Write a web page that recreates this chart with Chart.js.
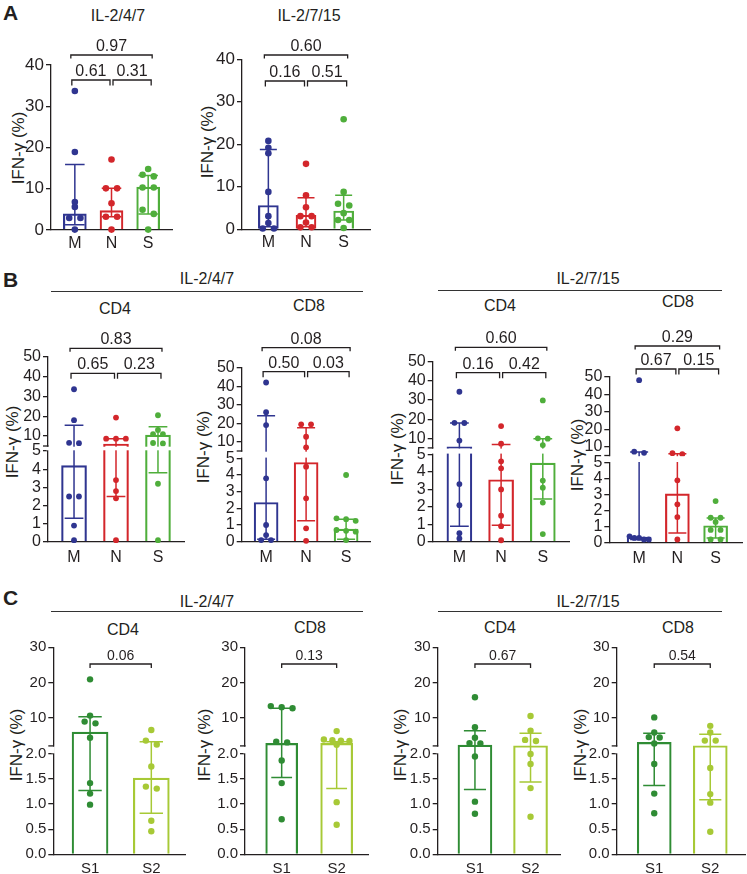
<!DOCTYPE html>
<html><head><meta charset="utf-8">
<script src="https://cdn.jsdelivr.net/npm/chart.js@4.4.1/dist/chart.umd.min.js"></script>
<style>
body{margin:0;background:#fff;width:747px;height:874px;position:relative;overflow:hidden;font-family:"Liberation Sans",Arial,sans-serif;color:#231f20}
.t{position:absolute;white-space:nowrap;transform:translate(-50%,-50%);font-size:16px;line-height:1}
.L{position:absolute;font-weight:bold;font-size:21px;line-height:1}
.yl{position:absolute;white-space:nowrap;font-size:17px;line-height:1;transform:translate(-50%,-50%) rotate(-90deg)}
.hl{position:absolute;height:0;border-top:1.3px solid #333}
canvas{position:absolute}
</style></head><body>
<script>
// ---------------- DATA ----------------
const CATS3 = ['M','N','S'];
const CATS2 = ['S1','S2'];
const TICKS_A = [0,10,20,30,40];
const TICKS_B_LOW = [0,1,2,3,4,5];
const TICKS_B_UP = [10,20,30,40,50];
const TICKS_C_LOW = [0,0.5,1,1.5,2];
const LABELS_C_LOW = ['0.0','0.5','1.0','1.5','2.0'];
const TICKS_C_UP = [10,20,30];

// Panel A  IL-2/4/7
const A1_M = [33.7, 18.9, 6.8, 5.6, 2.9, 2.9, 0.1];
const A1_N = [17.1, 10.1, 10.1, 6.5, 3.2, 3.2, 0.1];
const A1_S = [14.8, 13.4, 13.0, 10.3, 10.3, 4.9, 3.9, 0.1];
const A1_bar = [3.9, 4.7, 10.4];
const A1_lo = [1.3, 3.2, 3.9];
const A1_hi = [15.9, 10.1, 13.2];
const A1_p = ['0.97','0.61','0.31'];
// Panel A  IL-2/7/15
const A2_M = [20.8, 19.2, 17.9, 8.8, 3.1, 1.5, 0.2, 0.2];
const A2_N = [15.4, 8.0, 5.2, 3.1, 3.1, 1.6, 0.5, 0.5];
const A2_S = [25.9, 8.8, 6.0, 5.6, 3.8, 2.2, 2.2, 0.3];
const A2_bar = [5.6, 3.3, 4.3];
const A2_lo = [0.6, 0.6, 2.2];
const A2_hi = [18.8, 7.4, 8.0];
const A2_p = ['0.60','0.16','0.51'];
// Panel B  IL-2/4/7 CD4
const B1_M = [33.6, 18.0, 6.6, 6.4, 2.5, 2.5, 0.9, 0.1];
const B1_N = [19.3, 8.7, 8.7, 8.7, 3.4, 2.8, 2.4, 0.1];
const B1_S = [20.5, 13.1, 11.0, 11.0, 6.5, 6.3, 3.2, 0.1];
const B1_bar = [4.2, 6.0, 10.5];
const B1_lo = [1.3, 2.5, 3.8];
const B1_hi = [15.4, 8.7, 14.7];
const B1_p = ['0.83','0.65','0.23'];
// Panel B  IL-2/4/7 CD8
const B2_M = [42, 26, 19, 3.8, 1.0, 0.4, 0.1, 0.1];
const B2_N = [19.4, 19.4, 12.7, 7.0, 4.5, 2.6, 0.8, 0.05];
const B2_S = [4.0, 1.4, 1.35, 1.25, 0.7, 0.65, 0.6, 0.1];
const B2_bar = [2.35, 4.75, 0.75];
const B2_lo = [0.15, 1.25, 0.15];
const B2_hi = [24, 17.6, 1.35];
const B2_p = ['0.08','0.50','0.03'];
// Panel B  IL-2/7/15 CD4
const B3_M = [34.3, 18.1, 18.0, 8.8, 3.3, 2.1, 0.5, 0.2];
const B3_N = [16.4, 7.2, 4.6, 4.2, 3.0, 1.5, 0.9, 0.1];
const B3_S = [29.8, 10.0, 9.8, 6.5, 3.5, 3.1, 2.25, 0.45];
const B3_bar = [5.6, 3.55, 4.5];
const B3_lo = [0.9, 0.95, 2.45];
const B3_hi = [18.0, 6.8, 9.8];
const B3_p = ['0.60','0.16','0.42'];
// Panel B  IL-2/7/15 CD8
const B4_M = [48, 7.2, 6.5, 0.4, 0.3, 0.3, 0.2, 0.2];
const B4_N = [20.5, 6.3, 5.7, 3.9, 2.4, 1.6, 0.2];
const B4_S = [2.6, 1.56, 1.56, 1.3, 0.8, 0.8, 0.2, 0.2];
const B4_bar = [0.35, 3.05, 1.06];
const B4_lo = [0.2, 0.6, 0.3];
const B4_hi = [7.0, 6.0, 1.55];
const B4_p = ['0.29','0.67','0.15'];
// Panel C
const C1_S1 = [20.9, 10.6, 8.9, 8.4, 4.3, 1.42, 1.21, 0.99];
const C1_S2 = [6.5, 3.5, 2.4, 1.75, 1.35, 1.31, 0.67, 0.46];
const C1_bar = [5.9, 1.52], C1_lo = [1.27, 0.82], C1_hi = [10.3, 3.2], C1_p = ['0.06'];
const C2_S1 = [13.3, 13.0, 12.7, 3.2, 3.0, 1.87, 1.42, 0.70];
const C2_S2 = [6.2, 3.8, 3.6, 3.5, 3.4, 2.3, 1.04, 0.59];
const C2_bar = [2.7, 2.7], C2_lo = [1.53, 1.31], C2_hi = [12.7, 3.2], C2_p = ['0.13'];
const C3_S1 = [15.8, 7.3, 4.3, 2.8, 2.7, 1.95, 1.05, 0.81];
const C3_S2 = [10.5, 6.3, 3.7, 3.4, 2.0, 1.8, 1.32, 0.75];
const C3_bar = [2.2, 2.05], C3_lo = [1.29, 1.44], C3_hi = [6.3, 5.6], C3_p = ['0.67'];
const C4_S1 = [10.1, 5.8, 4.5, 4.4, 2.7, 1.8, 1.21, 0.82];
const C4_S2 = [7.7, 5.8, 3.5, 3.5, 1.72, 1.2, 1.03, 0.45];
const C4_bar = [3.0, 2.05], C4_lo = [1.37, 1.09], C4_hi = [5.6, 5.3], C4_p = ['0.54'];

// ---------------- STYLE / LAYOUT ----------------
const COL3 = ['#2f3590','#d3262b','#4fae3b'];
const COL2 = ['#2f8c34','#a7c936'];
const FONT = '"Liberation Sans", Arial, sans-serif';

const SPECS = {};
const charts = [
 {id:'A1',cats:CATS3,groups:[A1_M,A1_N,A1_S],bar:A1_bar,lo:A1_lo,hi:A1_hi,p:A1_p,colors:COL3,
  lowTicks:TICKS_A,lowMax:40,axisX:51,xEnd:172,zeroY:230,topY:65,xMin:-0.65,xMax:2.65,barW:23,br:[55,80],tf:17,pf:16,xf:16,r:3.3,cap:0.85,xpad:4,gapMode:0},
 {id:'A2',cats:CATS3,groups:[A2_M,A2_N,A2_S],bar:A2_bar,lo:A2_lo,hi:A2_hi,p:A2_p,colors:COL3,
  lowTicks:TICKS_A,lowMax:40,axisX:242,xEnd:370,zeroY:229.3,topY:59.3,xMin:-0.7,xMax:2.7,barW:20,br:[55,81],tf:17,pf:16,xf:16,r:3.3,cap:0.85,xpad:4,gapMode:0},
 {id:'B1',cats:CATS3,groups:[B1_M,B1_N,B1_S],bar:B1_bar,lo:B1_lo,hi:B1_hi,p:B1_p,colors:COL3,
  lowTicks:TICKS_B_LOW,upTicks:TICKS_B_UP,lowMax:5,upMax:50,axisX:48,xEnd:184,zeroY:542,lowTopY:451,upBotY:446,topY:356.7,xMin:-0.62,xMax:2.62,barW:25,br:[348.3,373.3],tf:16,pf:16,xf:16,r:2.9,cap:0.75,xpad:6,gapMode:1},
 {id:'B2',cats:CATS3,groups:[B2_M,B2_N,B2_S],bar:B2_bar,lo:B2_lo,hi:B2_hi,p:B2_p,colors:COL3,
  lowTicks:TICKS_B_LOW,upTicks:TICKS_B_UP,lowMax:5,upMax:50,axisX:241.7,xEnd:370.5,zeroY:541.7,lowTopY:458.3,upBotY:451,topY:367.7,xMin:-0.61,xMax:2.61,barW:24,br:[347.7,371.7],tf:16,pf:16,xf:16,r:2.9,cap:0.75,xpad:6,gapMode:1},
 {id:'B3',cats:CATS3,groups:[B3_M,B3_N,B3_S],bar:B3_bar,lo:B3_lo,hi:B3_hi,p:B3_p,colors:COL3,
  lowTicks:TICKS_B_LOW,upTicks:TICKS_B_UP,lowMax:5,upMax:50,axisX:432.7,xEnd:569.5,zeroY:542,lowTopY:454.3,upBotY:447.9,topY:361.7,xMin:-0.64,xMax:2.64,barW:25,br:[347.3,372.7],tf:16,pf:16,xf:16,r:2.9,cap:0.75,xpad:6,gapMode:1},
 {id:'B4',cats:CATS3,groups:[B4_M,B4_N,B4_S],bar:B4_bar,lo:B4_lo,hi:B4_hi,p:B4_p,colors:COL3,
  lowTicks:TICKS_B_LOW,upTicks:TICKS_B_UP,lowMax:5,upMax:50,axisX:609.3,xEnd:742,zeroY:542.7,lowTopY:462.7,upBotY:455.5,topY:376.7,xMin:-0.78,xMax:2.69,barW:24,br:[346,369],tf:16,pf:16,xf:16,r:2.9,cap:0.75,xpad:6,gapMode:1},
 {id:'C1',cats:CATS2,groups:[C1_S1,C1_S2],bar:C1_bar,lo:C1_lo,hi:C1_hi,p:C1_p,colors:COL2,
  lowTicks:TICKS_C_LOW,lowLabels:LABELS_C_LOW,upTicks:TICKS_C_UP,lowMax:2,upMax:30,axisX:53.3,xEnd:185,zeroY:854.3,lowTopY:754,upBotY:745.9,topY:647.3,xMin:-0.6,xMax:1.55,barW:36,br:[664],tf:15,pf:14,xf:15,r:3.2,cap:0.65,xpad:6,gapMode:2},
 {id:'C2',cats:CATS2,groups:[C2_S1,C2_S2],bar:C2_bar,lo:C2_lo,hi:C2_hi,p:C2_p,colors:COL2,
  lowTicks:TICKS_C_LOW,lowLabels:LABELS_C_LOW,upTicks:TICKS_C_UP,lowMax:2,upMax:30,axisX:245,xEnd:368,zeroY:854.3,lowTopY:754,upBotY:745.9,topY:647.3,xMin:-0.667,xMax:1.57,barW:32,br:[664],tf:15,pf:14,xf:15,r:3.2,cap:0.65,xpad:6,gapMode:2},
 {id:'C3',cats:CATS2,groups:[C3_S1,C3_S2],bar:C3_bar,lo:C3_lo,hi:C3_hi,p:C3_p,colors:COL2,
  lowTicks:TICKS_C_LOW,lowLabels:LABELS_C_LOW,upTicks:TICKS_C_UP,lowMax:2,upMax:30,axisX:437.7,xEnd:560,zeroY:854.3,lowTopY:754,upBotY:745.9,topY:647.3,xMin:-0.67,xMax:1.53,barW:34,br:[664],tf:15,pf:14,xf:15,r:3.2,cap:0.65,xpad:6,gapMode:2},
 {id:'C4',cats:CATS2,groups:[C4_S1,C4_S2],bar:C4_bar,lo:C4_lo,hi:C4_hi,p:C4_p,colors:COL2,
  lowTicks:TICKS_C_LOW,lowLabels:LABELS_C_LOW,upTicks:TICKS_C_UP,lowMax:2,upMax:30,axisX:616.7,xEnd:745,zeroY:854.3,lowTopY:754,upBotY:745.9,topY:647.3,xMin:-0.67,xMax:1.62,barW:34,br:[664],tf:15,pf:14,xf:15,r:3.2,cap:0.65,xpad:6,gapMode:2}
];

const TEXTS = [
 ['IL-2/4/7',118,16],['IL-2/7/15',309,16],
 ['IL-2/4/7',207,279],['IL-2/7/15',588,279],
 ['CD4',115,309],['CD8',309,305.7],['CD4',500,306],['CD8',678,302],
 ['IL-2/4/7',207,602],['IL-2/7/15',588,602],
 ['CD4',123,630],['CD8',310,628],['CD4',500,628],['CD8',678,628]
];
const HLINES = [[51,363,291],[438,722,290],[51,363,611],[438,722,611]];
const YLABELS = [[18,148],[207,142],[12,442],[203,447],[397,449],[577,455],[16,745],[204,745],[400,745],[580,745]];
const LETTERS = [['A',3,2],['B',3,269],['C',3,587]];

// ---------------- BUILD ----------------
const body = document.body;
function addDiv(cls, txt, css){ const d=document.createElement('div'); d.className=cls; d.textContent=txt; Object.assign(d.style,css); body.appendChild(d); return d; }
TEXTS.forEach(([t,x,y])=>addDiv('t',t,{left:x+'px',top:y+'px'}));
HLINES.forEach(([x1,x2,y])=>addDiv('hl','',{left:x1+'px',top:y+'px',width:(x2-x1)+'px'}));
YLABELS.forEach(([x,y])=>addDiv('yl','IFN-\u03b3 (%)',{left:x+'px',top:y+'px'}));
LETTERS.forEach(([t,x,y])=>addDiv('L',t,{left:x+'px',top:y+'px'}));

function makeF(s){
  const H = s.zeroY - s.topY;
  if(!s.upTicks) return v => v / s.lowMax * H;
  const hLow = s.zeroY - s.lowTopY, gap = s.lowTopY - s.upBotY, hUp = s.upBotY - s.topY;
  return v => v <= s.lowMax ? v / s.lowMax * hLow : hLow + gap + (v - s.lowMax) / (s.upMax - s.lowMax) * hUp;
}

function swarm(vals, f, r, pxPerUnit, maxSpread){
  const ys = vals.map(f);
  const idx = ys.map((y,i)=>i).sort((a,b)=>ys[b]-ys[a]);
  const off = new Array(vals.length).fill(0);
  let k = 0;
  while(k < idx.length){
    let j = k + 1;
    while(j < idx.length && ys[idx[k]] - ys[idx[j]] < 1.3*r) j++;
    const n = j - k;
    const step = n > 1 ? Math.min(3.4*r, maxSpread/(n-1)) : 0;
    for(let m=0;m<n;m++) off[idx[k+m]] = (m - (n-1)/2) * step / pxPerUnit;
    k = j;
  }
  return off;
}

const deco = {
  id:'deco',
  afterDatasetDraw(chart, args){
    if(args.meta.type !== 'bar') return;
    const s = SPECS[chart.canvas.id]; const ctx = chart.ctx;
    const xs = chart.scales.x, ys = chart.scales.y;
    s.lo.forEach((lo,i)=>{
      const x = xs.getPixelForValue(i);
      const y1 = ys.getPixelForValue(s.f(lo)), y2 = ys.getPixelForValue(s.f(s.hi[i]));
      const cw = s.barW * s.cap / 2;
      ctx.save(); ctx.strokeStyle = s.colors[i]; ctx.lineWidth = 1.5;
      ctx.beginPath();
      ctx.moveTo(x,y1); ctx.lineTo(x,y2);
      ctx.moveTo(x-cw,y1); ctx.lineTo(x+cw,y1);
      ctx.moveTo(x-cw,y2); ctx.lineTo(x+cw,y2);
      ctx.stroke(); ctx.restore();
    });
  },
  afterDatasetsDraw(chart){
    const s = SPECS[chart.canvas.id]; const ctx = chart.ctx;
    const xs = chart.scales.x, ys = chart.scales.y, ca = chart.chartArea;
    if(s.upTicks){
      const yLow = ys.getPixelForValue(s.f(s.lowMax));
      const yUpB = ys.getPixelForValue(s.zeroY - s.upBotY);
      ctx.save(); ctx.fillStyle = '#fff';
      const x2 = s.gapMode === 1 ? ca.right + 2 : ca.left + 1.5;
      ctx.fillRect(ca.left - 2, yUpB + 0.7, x2 - (ca.left - 2), yLow - yUpB - 1.4);
      ctx.strokeStyle = '#231f20'; ctx.lineWidth = 1.3;
      ctx.beginPath(); ctx.moveTo(ca.left - 5, yUpB); ctx.lineTo(ca.left + 0.6, yUpB); ctx.stroke();
      ctx.restore();
    }
    // brackets
    ctx.save();
    ctx.strokeStyle = '#231f20'; ctx.fillStyle = '#231f20'; ctx.lineWidth = 1.3;
    ctx.font = s.pf + 'px ' + FONT; ctx.textAlign = 'center'; ctx.textBaseline = 'alphabetic';
    const c = [0,1,2].map(i=>xs.getPixelForValue(i));
    const br = (x1,x2,y,t,label)=>{
      ctx.beginPath(); ctx.moveTo(x1,y+t); ctx.lineTo(x1,y); ctx.lineTo(x2,y); ctx.lineTo(x2,y+t); ctx.stroke();
      ctx.fillText(label,(x1+x2)/2,y-4);
    };
    const yb = s.br.map(v=>v - s.canvasTop);
    if(s.cats.length === 3){
      br(c[0]-4, c[2]+4, yb[0], 3.5, s.p[0]);
      br(c[0]-3, c[1]-1.5, yb[1], 5.5, s.p[1]);
      br(c[1]+1.5, c[2]+3, yb[1], 5.5, s.p[2]);
    } else {
      br(c[0], c[1], yb[0], 4, s.p[0]);
    }
    ctx.restore();
  }
};

charts.forEach(s=>{
  s.f = makeF(s);
  const YW0 = 46, XH = 28, PT = 60;
  const left = Math.round(s.axisX - YW0), top = Math.round(s.topY - PT);
  const yw = s.axisX - left, padTop = s.topY - top;
  const w = Math.ceil(s.xEnd - left + 6), h = Math.ceil(s.zeroY - top + XH);
  const padRight = w - (s.xEnd - left), padBottom = h - XH - (s.zeroY - top);
  s.canvasTop = top;
  const cv = document.createElement('canvas');
  cv.id = 'cv' + s.id; cv.width = w; cv.height = h;
  Object.assign(cv.style,{left:left+'px',top:top+'px',width:w+'px',height:h+'px'});
  body.appendChild(cv);
  SPECS[cv.id] = s;

  const tickVals = s.upTicks ? s.lowTicks.concat(s.upTicks) : s.lowTicks.slice();
  const lowLabels = s.lowLabels || s.lowTicks.map(String);
  const tickLabels = s.upTicks ? lowLabels.concat(s.upTicks.map(String)) : lowLabels;
  const total = s.f(s.upTicks ? s.upMax : s.lowMax);
  const pxPerUnit = (s.xEnd - s.axisX) / (s.xMax - s.xMin);

  const datasets = [{
    type:'bar', order:1,
    data: s.bar.map((v,i)=>({x:i, y:s.f(v)})),
    backgroundColor:'rgba(255,255,255,0)', borderColor:s.colors, borderWidth:1.5,
    barThickness:s.barW, borderSkipped:'bottom'
  }];
  s.groups.forEach((vals,gi)=>{
    const off = swarm(vals, s.f, s.r, pxPerUnit, s.barW * 0.8);
    datasets.push({
      type:'scatter', order:0, clip:false,
      data: vals.map((v,k)=>({x:gi + off[k], y:s.f(v)})),
      backgroundColor:s.colors[gi], borderWidth:0, pointRadius:s.r, pointHoverRadius:s.r
    });
  });

  new Chart(cv, {
    type:'bar',
    data:{datasets},
    plugins:[deco],
    options:{
      responsive:false, animation:false, events:[], devicePixelRatio:1,
      layout:{padding:{top:padTop,right:padRight,bottom:padBottom,left:0}},
      plugins:{legend:{display:false},tooltip:{enabled:false},title:{display:false}},
      scales:{
        x:{type:'linear', min:s.xMin, max:s.xMax, offset:false,
          afterBuildTicks:(sc)=>{ sc.ticks = s.cats.map((c,i)=>({value:i})); },
          afterFit:(sc)=>{ sc.height = XH; },
          grid:{display:true, drawOnChartArea:false, drawTicks:false, color:'#231f20'},
          border:{display:true, color:'#231f20', width:1.3},
          ticks:{autoSkip:false, maxRotation:0, padding:s.xpad, color:'#231f20', font:{family:FONT, size:s.xf},
            callback:(v,i)=>s.cats[i]}
        },
        y:{type:'linear', min:0, max:total,
          afterBuildTicks:(sc)=>{ sc.ticks = tickVals.map(v=>({value:s.f(v)})); },
          afterFit:(sc)=>{ sc.width = yw; },
          grid:{display:true, drawOnChartArea:false, drawTicks:true, tickLength:5, color:'#231f20', lineWidth:1.3},
          border:{display:true, color:'#231f20', width:1.3},
          ticks:{autoSkip:false, padding:2, color:'#231f20', font:{family:FONT, size:s.tf},
            callback:(v,i)=>tickLabels[i]}
        }
      }
    }
  });
});
</script>
</body></html>
